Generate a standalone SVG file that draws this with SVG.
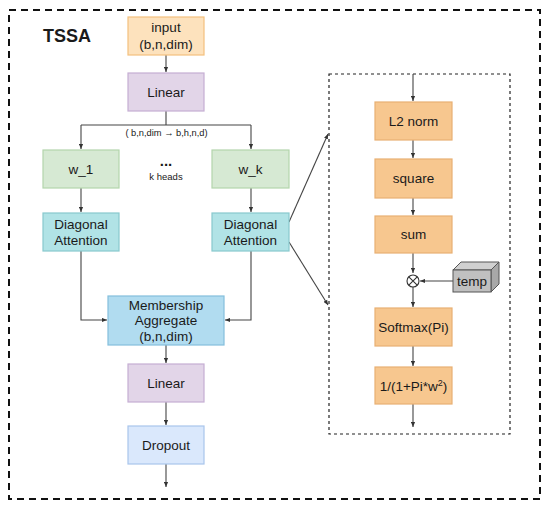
<svg xmlns="http://www.w3.org/2000/svg" width="550" height="507" viewBox="0 0 550 507">
<defs>
<style>
text{font-family:"Liberation Sans",Arial,sans-serif;fill:#1a1a1a;text-anchor:middle}
.t{font-size:13.5px}
.c{fill:none;stroke:#444;stroke-width:1.1}
.orange{fill:#fde2bd;stroke:#f3c07d;stroke-width:1.2}
.purple{fill:#e2d5e8;stroke:#c5aed3;stroke-width:1.2}
.green{fill:#d6e9d3;stroke:#b3d5ac;stroke-width:1.2}
.teal{fill:#b1e3e6;stroke:#88c9cd;stroke-width:1.2}
.blue{fill:#b1dcf0;stroke:#84bfdc;stroke-width:1.2}
.lblue{fill:#dae8fc;stroke:#a9c5ec;stroke-width:1.2}
.pan{fill:#f7c78f;stroke:#e8b073;stroke-width:1.2}
</style>
<marker id="ah" viewBox="0 0 6 6" refX="6" refY="3" markerWidth="5" markerHeight="5" orient="auto" markerUnits="userSpaceOnUse">
<path d="M0,0.5 L6,3 L0,5.5 Z" fill="#333"/>
</marker>
</defs>
<rect width="550" height="507" fill="#fff"/>
<rect x="9" y="10" width="531" height="489" fill="none" stroke="#111" stroke-width="2" stroke-dasharray="7,5"/>
<text x="67" y="42" style="font-size:18px;font-weight:bold">TSSA</text>
<rect x="329" y="74" width="181" height="360" fill="none" stroke="#222" stroke-width="1.2" stroke-dasharray="3,3"/>

<g id="connectors">
<path class="c" d="M166,55 V72" marker-end="url(#ah)"/>
<path class="c" d="M166,111 V125 M81,125 H251"/>
<path class="c" d="M81,125 V149" marker-end="url(#ah)"/>
<path class="c" d="M251,125 V149" marker-end="url(#ah)"/>
<path class="c" d="M81,188 V212" marker-end="url(#ah)"/>
<path class="c" d="M251,188 V212" marker-end="url(#ah)"/>
<path class="c" d="M81,251 V320 H107" marker-end="url(#ah)"/>
<path class="c" d="M251,251 V320 H225" marker-end="url(#ah)"/>
<path class="c" d="M166,345 V363" marker-end="url(#ah)"/>
<path class="c" d="M166,402 V425" marker-end="url(#ah)"/>
<path class="c" d="M166,464 V487" marker-end="url(#ah)"/>
<path class="c" d="M289,222 L328,134" marker-end="url(#ah)"/>
<path class="c" d="M289,242 L328,305" marker-end="url(#ah)"/>
<path class="c" d="M413,74 V101" marker-end="url(#ah)"/>
<path class="c" d="M413,140 V158" marker-end="url(#ah)"/>
<path class="c" d="M413,198 V215" marker-end="url(#ah)"/>
<path class="c" d="M413,253 V273" marker-end="url(#ah)"/>
<path class="c" d="M453,281 H420" marker-end="url(#ah)"/>
<path class="c" d="M413,287 V307" marker-end="url(#ah)"/>
<path class="c" d="M413,346 V366" marker-end="url(#ah)"/>
<path class="c" d="M413,404 V427" marker-end="url(#ah)"/>
</g>

<text x="166.5" y="136" style="font-size:9.3px">( b,n,dim → b,h,n,d)</text>
<text x="166" y="166" style="font-size:15px;font-weight:bold">...</text>
<text x="166" y="180" style="font-size:9.5px">k heads</text>

<g id="input"><rect class="orange" x="128" y="17" width="76" height="38"/><text class="t" x="166" y="32">input</text><text class="t" x="166" y="49">(b,n,dim)</text></g>
<g id="linear1"><rect class="purple" x="128" y="73" width="76" height="38"/><text class="t" x="166" y="97">Linear</text></g>
<g id="w1"><rect class="green" x="43" y="150" width="76" height="38"/><text class="t" x="81" y="174">w_1</text></g>
<g id="wk"><rect class="green" x="212" y="150" width="77" height="38"/><text class="t" x="250.5" y="174">w_k</text></g>
<g id="diag1"><rect class="teal" x="43" y="213" width="76" height="38"/><text class="t" x="81" y="229">Diagonal</text><text class="t" x="81" y="245">Attention</text></g>
<g id="diagk"><rect class="teal" x="212" y="213" width="77" height="38"/><text class="t" x="250.5" y="229">Diagonal</text><text class="t" x="250.5" y="245">Attention</text></g>
<g id="membership"><rect class="blue" x="108" y="296" width="116" height="49"/><text class="t" x="166" y="310">Membership</text><text class="t" x="166" y="325">Aggregate</text><text class="t" x="166" y="341">(b,n,dim)</text></g>
<g id="linear2"><rect class="purple" x="128" y="364" width="76" height="38"/><text class="t" x="166" y="388">Linear</text></g>
<g id="dropout"><rect class="lblue" x="128" y="426" width="76" height="38"/><text class="t" x="166" y="450">Dropout</text></g>

<g id="l2norm"><rect class="pan" x="375" y="102" width="77" height="38"/><text class="t" x="413.5" y="126">L2 norm</text></g>
<g id="square"><rect class="pan" x="375" y="159" width="77" height="39"/><text class="t" x="413.5" y="183">square</text></g>
<g id="sum"><rect class="pan" x="375" y="216" width="77" height="37"/><text class="t" x="413.5" y="239">sum</text></g>
<g id="mult"><circle cx="413" cy="281" r="6" fill="#fff" stroke="#333" stroke-width="1.1"/><path d="M408.8,276.8 L417.2,285.2 M417.2,276.8 L408.8,285.2" stroke="#333" stroke-width="1.1"/></g>
<g id="temp">
<path d="M453,270 L461,262 H499 L491,270 Z" fill="#d0d0d0" stroke="#555" stroke-width="1"/>
<path d="M491,270 L499,262 V284 L491,292 Z" fill="#a8a8a8" stroke="#555" stroke-width="1"/>
<rect x="453" y="270" width="38" height="22" fill="#c0c0c0" stroke="#555" stroke-width="1"/>
<text class="t" x="472" y="286">temp</text>
</g>
<g id="softmax"><rect class="pan" x="375" y="308" width="77" height="38"/><text class="t" x="413.5" y="332">Softmax(Pi)</text></g>
<g id="inv"><rect class="pan" x="375" y="367" width="77" height="37"/><text class="t" x="413.5" y="391">1/(1+Pi*w<tspan dy="-5" style="font-size:9px">2</tspan><tspan dy="5">)</tspan></text></g>
</svg>
